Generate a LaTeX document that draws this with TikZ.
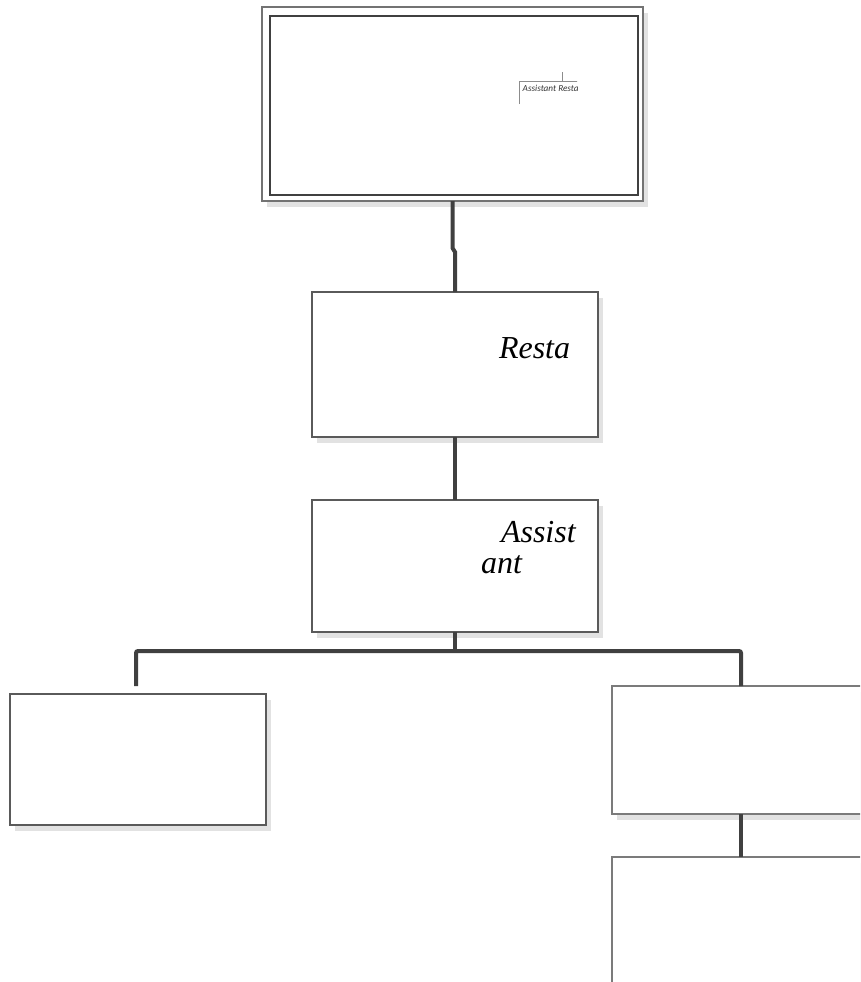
\documentclass[tikz,border=0pt]{standalone}
\usepackage{fontspec}
\setmainfont{Liberation Serif}
\newfontfamily\thumbfont{Carlito}
\usetikzlibrary{calc,shadows}
\definecolor{conncol}{HTML}{404040}
\definecolor{boxcol}{HTML}{5A5A5A}
\definecolor{shadcol}{HTML}{E2E2E2}
\definecolor{thumbcol}{HTML}{8C8C8C}
\begin{document}
\begin{tikzpicture}[x=1pt,y=-1pt,
  orgbox/.style={draw=boxcol, line width=1.2pt, fill=white, inner sep=0pt, outer sep=0pt,
    drop shadow={shadow xshift=5pt, shadow yshift=-6pt, fill=shadcol, opacity=1}},
  conn/.style={draw=conncol, line width=4pt},
  lbl/.style={font=\itshape\fontsize{32}{32}\selectfont, inner sep=0pt, outer sep=0pt},
  thumbline/.style={draw=thumbcol, line width=0.8pt}]
\useasboundingbox (0,0) rectangle (860,982);
\clip (0,0) rectangle (860,982);
% boxes
\node[orgbox, draw=boxcol!85, minimum width=381pt, minimum height=194pt] (top) at (452.5,104) {};
\draw[draw=conncol, line width=1.2pt] (270,16) rectangle (638,195);
\node[orgbox, minimum width=286pt, minimum height=145pt] (resta) at (455,364.5) {};
\node[orgbox, minimum width=286pt, minimum height=132pt] (asst) at (455,566) {};
\node[orgbox, minimum width=256pt, minimum height=131pt] (left) at (138,759.5) {};
\node[orgbox, draw=boxcol!80, minimum width=258pt, minimum height=128pt] (right) at (741,750) {};
\node[orgbox, draw=boxcol!80, minimum width=258pt, minimum height=160pt] (bottom) at (741,937) {};
% labels
\node[lbl, anchor=base west] (restatxt) at (499,358) {Resta};
\node[lbl, anchor=base west] (assisttxt) at (501,542) {Assist};
\node[lbl, anchor=base west] (anttxt) at (481,573) {ant};
% thumbnail inside top box
\begin{scope}
  \clip (517,68) rectangle (577,106);
  \coordinate (thtop) at (562,72);
  \coordinate (thjoin) at (562,81);
  \coordinate (thcorner) at (519,81);
  \coordinate (thleft) at (519,104);
  \coordinate (thright) at (600,81);
  \draw[thumbline] (thleft) -- (thcorner) -- (thright);
  \draw[thumbline] (thtop) -- (thjoin);
  \node[anchor=base west, inner sep=0pt, text=black!80,
        font=\thumbfont\itshape\fontsize{9.2}{10}\selectfont] (thumbtxt) at (522.5,92) {Assistant Resta};
\end{scope}
% connectors
\coordinate (jogA) at (452.5,248);
\coordinate (jogB) at (455,252);
\draw[conn] (top.south) -- (jogA) -- (jogB) -- (resta.north);
\draw[conn] (resta.south) -- (asst.north);
\coordinate (bus) at (455,651);
\coordinate (lend) at (136,686);
\coordinate (rturn) at (741,651);
\draw[conn] (asst.south) -- (bus);
\draw[conn, rounded corners=2pt] (lend) |- (bus) -- (rturn) -- (right.north);
\draw[conn] (right.south) -- (bottom.north);
\end{tikzpicture}
\end{document}
